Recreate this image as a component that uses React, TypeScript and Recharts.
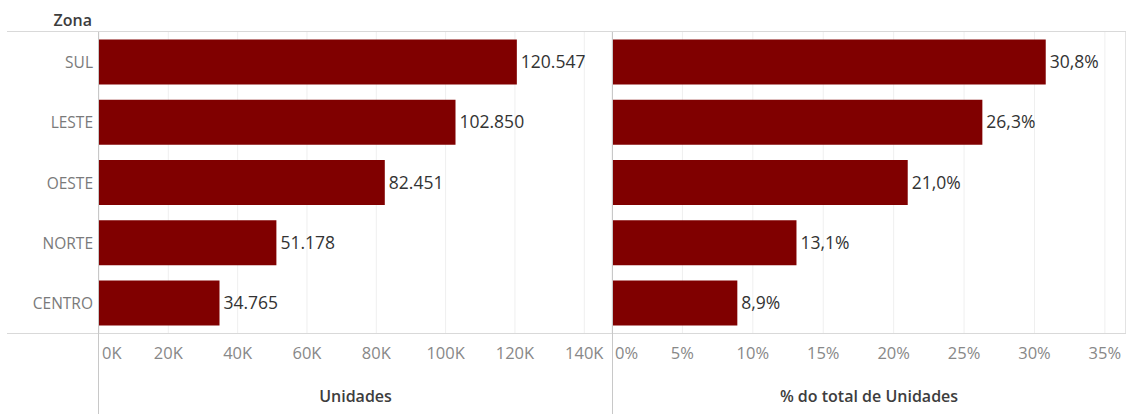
import { BarChart, Bar, XAxis, YAxis, CartesianGrid, LabelList } from 'recharts';

const zonas = ['SUL', 'LESTE', 'OESTE', 'NORTE', 'CENTRO'];
const unidades = [120547, 102850, 82451, 51178, 34765];
const pctTotal = [0.308, 0.263, 0.21, 0.131, 0.089];
const unidadesTicks = [0, 20000, 40000, 60000, 80000, 100000, 120000, 140000];
const pctTicks = [0, 0.05, 0.1, 0.15, 0.2, 0.25, 0.3, 0.35];

const BAR_COLOR = '#800000';
const FONT = '"Open Sans", sans-serif';
const LINE = '#d9d9d9';

const data = zonas.map((zona, i) => ({ zona, unidades: unidades[i], pct: pctTotal[i] }));

const fmtUnidades = (v: number) => String(v).replace(/\B(?=(\d{3})+(?!\d))/g, '.');
const fmtPct = (v: number) => (v * 100).toFixed(1).replace('.', ',') + '%';
const fmtK = (v: number) => `${v / 1000}K`;
const fmtPctTick = (v: number) => `${Math.round(v * 100)}%`;

function XTick(props: any) {
  const { x, y, payload, index, fmt } = props;
  const first = index === 0;
  return (
    <text
      x={x + (first ? 3 : 0)}
      y={y + 26}
      textAnchor={first ? 'start' : 'middle'}
      fill="#888"
      fontSize={16.5}
      fontFamily={FONT}
    >
      {fmt(payload.value)}
    </text>
  );
}

function YTick(props: any) {
  const { x, y, payload } = props;
  return (
    <text x={x - 6} y={y} dy={6} textAnchor="end" fill="#7a7a7a" fontSize={15.5} fontFamily={FONT}>
      {payload.value}
    </text>
  );
}

const titleLabel = (value: string) => ({
  value,
  position: 'insideBottom' as const,
  offset: 12,
  fill: '#3d3d3d',
  fontSize: 16,
  fontWeight: 600,
  fontFamily: FONT,
});

function Line({ left, top, width, height, color = LINE }: any) {
  return <div style={{ position: 'absolute', left, top, width, height, background: color }} />;
}

export default function App() {
  return (
    <div style={{ position: 'absolute', left: 0, top: 0, width: 1128, height: 414, background: '#fff', fontFamily: FONT }}>
      <div
        style={{
          position: 'absolute',
          right: 1128 - 92,
          top: 9,
          fontSize: 16,
          fontWeight: 600,
          color: '#3d3d3d',
          whiteSpace: 'nowrap',
        }}
      >
        Zona
      </div>

      <div style={{ position: 'absolute', left: 0, top: 0 }}>
        <BarChart
          width={612}
          height={414}
          data={data}
          layout="vertical"
          margin={{ top: 32, right: 0, left: 0, bottom: 0 }}
          barCategoryGap="12.6%"
        >
          <CartesianGrid horizontal={false} stroke="#efefef" />
          <XAxis
            type="number"
            dataKey="unidades"
            domain={[0, 148000]}
            ticks={unidadesTicks}
            height={81}
            axisLine={false}
            tickLine={false}
            tickSize={0}
            tickMargin={0}
            interval={0}
            tick={<XTick fmt={fmtK} />}
            label={titleLabel('Unidades')}
          />
          <YAxis
            type="category"
            dataKey="zona"
            width={99}
            axisLine={false}
            tickLine={false}
            tickSize={0}
            tickMargin={0}
            tick={<YTick />}
          />
          <Bar dataKey="unidades" fill={BAR_COLOR} isAnimationActive={false}>
            <LabelList
              dataKey="unidades"
              position="right"
              offset={4}
              formatter={(v: any) => fmtUnidades(Number(v))}
              fill="#333"
              fontSize={17.5}
              fontFamily={FONT}
            />
          </Bar>
        </BarChart>
      </div>

      <div style={{ position: 'absolute', left: 612, top: 0 }}>
        <BarChart
          width={514}
          height={414}
          data={data}
          layout="vertical"
          margin={{ top: 32, right: 0, left: 0, bottom: 0 }}
          barCategoryGap="12.6%"
        >
          <CartesianGrid horizontal={false} stroke="#efefef" />
          <XAxis
            type="number"
            dataKey="pct"
            domain={[0, 0.365]}
            ticks={pctTicks}
            height={81}
            axisLine={false}
            tickLine={false}
            tickSize={0}
            tickMargin={0}
            interval={0}
            tick={<XTick fmt={fmtPctTick} />}
            label={titleLabel('% do total de Unidades')}
          />
          <YAxis type="category" dataKey="zona" hide />
          <Bar dataKey="pct" fill={BAR_COLOR} isAnimationActive={false}>
            <LabelList
              dataKey="pct"
              position="right"
              offset={4}
              formatter={(v: any) => fmtPct(Number(v))}
              fill="#333"
              fontSize={17.5}
              fontFamily={FONT}
            />
          </Bar>
        </BarChart>
      </div>

      {/* frame lines */}
      <Line left={7} top={31} width={1119} height={1} />
      <Line left={7} top={333} width={1119} height={1} />
      <Line left={98} top={32} width={1} height={382} color="#c8c8c8" />
      <Line left={612} top={32} width={1} height={382} color="#c8c8c8" />
      <Line left={1125} top={32} width={1} height={301} color="#e3e3e3" />
    </div>
  );
}
